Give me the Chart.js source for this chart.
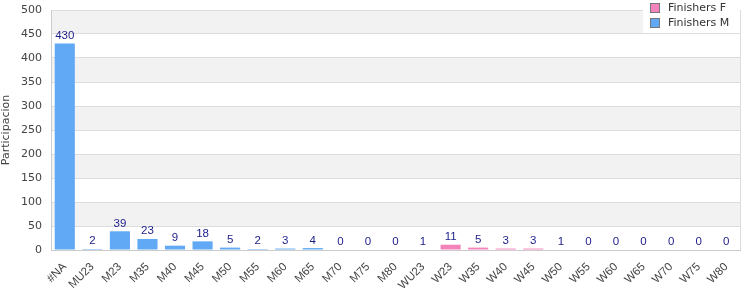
<!DOCTYPE html>
<html lang="es">
<head>
  <meta charset="UTF-8">
  <title>Participacion</title>
  <script src="https://cdn.jsdelivr.net/npm/chart.js"></script>
  <style>
    html, body { margin: 0; padding: 0; background: #fff; }
    #wrap { width: 750px; height: 300px; }
  </style>
</head>
<body>
  <div id="wrap"><canvas id="chart"></canvas></div>

  <script>
    // categorias y valores
    const categories = ['#NA', 'MU23', 'M23', 'M35', 'M40', 'M45', 'M50', 'M55', 'M60', 'M65', 'M70', 'M75', 'M80',
      'WU23', 'W23', 'W35', 'W40', 'W45', 'W50', 'W55', 'W60', 'W65', 'W70', 'W75', 'W80'];
    const finishersF = [0, 0, 0, 0, 0, 0, 0, 0, 0, 0, 0, 0, 0,
      1, 11, 5, 3, 3, 1, 0, 0, 0, 0, 0, 0];
    const finishersM = [430, 2, 39, 23, 9, 18, 5, 2, 3, 4, 0, 0, 0,
      0, 0, 0, 0, 0, 0, 0, 0, 0, 0, 0, 0];
    const yTicks = [0, 50, 100, 150, 200, 250, 300, 350, 400, 450, 500];

    const FONT = '"DejaVu Sans", Verdana, sans-serif';
    const FONT2 = '"Liberation Sans", Arial, sans-serif';

    // bandas grises alternas, totales y leyenda
    const bandsPlugin = {
      id: 'bands',
      beforeDraw(chart) {
        const { ctx, chartArea: a, scales: { y } } = chart;
        ctx.save();
        for (let i = 0; i < yTicks.length - 1; i++) {
          if ((yTicks.length - 2 - i) % 2 !== 0) continue;
          const top = y.getPixelForValue(yTicks[i + 1]);
          const bot = y.getPixelForValue(yTicks[i]);
          ctx.fillStyle = '#f2f2f2';
          ctx.fillRect(a.left, top, a.right - a.left, bot - top);
        }
        ctx.restore();
      },
      afterDraw(chart) {
        const { ctx, chartArea: a, scales: { x, y } } = chart;
        ctx.save();
        // borde derecho
        ctx.strokeStyle = '#dcdcdc';
        ctx.lineWidth = 1;
        ctx.beginPath();
        ctx.moveTo(a.right + 0.5, a.top);
        ctx.lineTo(a.right + 0.5, a.bottom);
        ctx.stroke();

        // totales encima de cada barra
        ctx.fillStyle = '#1c1c8a';
        ctx.font = '11.5px ' + FONT2;
        ctx.textAlign = 'center';
        ctx.textBaseline = 'bottom';
        categories.forEach((c, i) => {
          const total = finishersF[i] + finishersM[i];
          ctx.fillText(String(total), x.getPixelForValue(i), y.getPixelForValue(total) - 2);
        });

        // leyenda
        const ds = chart.data.datasets;
        ctx.fillStyle = '#fff';
        ctx.fillRect(643, 0, 97, 33);
        ctx.font = '11px ' + FONT;
        ctx.textAlign = 'left';
        ctx.textBaseline = 'middle';
        ds.forEach((d, i) => {
          const cy = 8 + i * 15;
          ctx.fillStyle = d.backgroundColor;
          ctx.fillRect(651, cy - 4, 8, 8);
          ctx.strokeStyle = '#777';
          ctx.strokeRect(650.5, cy - 4.5, 9, 9);
          ctx.fillStyle = '#333';
          ctx.fillText(d.label, 668, cy);
        });
        ctx.restore();
      }
    };

    new Chart(document.getElementById('chart'), {
      type: 'bar',
      data: {
        labels: categories,
        datasets: [
          { label: 'Finishers F', data: finishersF, backgroundColor: '#f383bb' },
          { label: 'Finishers M', data: finishersM, backgroundColor: '#61a9f4' }
        ]
      },
      options: {
        responsive: true,
        maintainAspectRatio: false,
        animation: false,
        layout: { padding: { top: 10, right: 10, left: 0, bottom: 0 } },
        datasets: { bar: { barPercentage: 0.73, categoryPercentage: 1 } },
        plugins: {
          legend: { display: false },
          tooltip: { enabled: false }
        },
        scales: {
          x: {
            stacked: true,
            grid: { display: false },
            border: { color: '#cccccc' },
            ticks: {
              color: '#444',
              font: { family: FONT2, size: 11.5 },
              minRotation: 45,
              maxRotation: 45,
              autoSkip: false,
              padding: 2
            },
            afterFit(s) { s.height = 50; s.paddingLeft = 0; s.paddingRight = 0; }
          },
          y: {
            stacked: true,
            min: 0,
            max: 500,
            afterBuildTicks(s) { s.ticks = yTicks.map(v => ({ value: v })); },
            grid: { color: '#dddddd', drawTicks: false },
            border: { color: '#cccccc' },
            ticks: {
              color: '#444',
              font: { family: FONT, size: 11 },
              padding: 9
            },
            title: {
              display: true,
              text: 'Participacion',
              color: '#444',
              font: { family: FONT, size: 11 },
              padding: 0
            },
            afterFit(s) { s.width = 51; s.paddingTop = 0; s.paddingBottom = 0; }
          }
        }
      },
      plugins: [bandsPlugin]
    });
  </script>
</body>
</html>
